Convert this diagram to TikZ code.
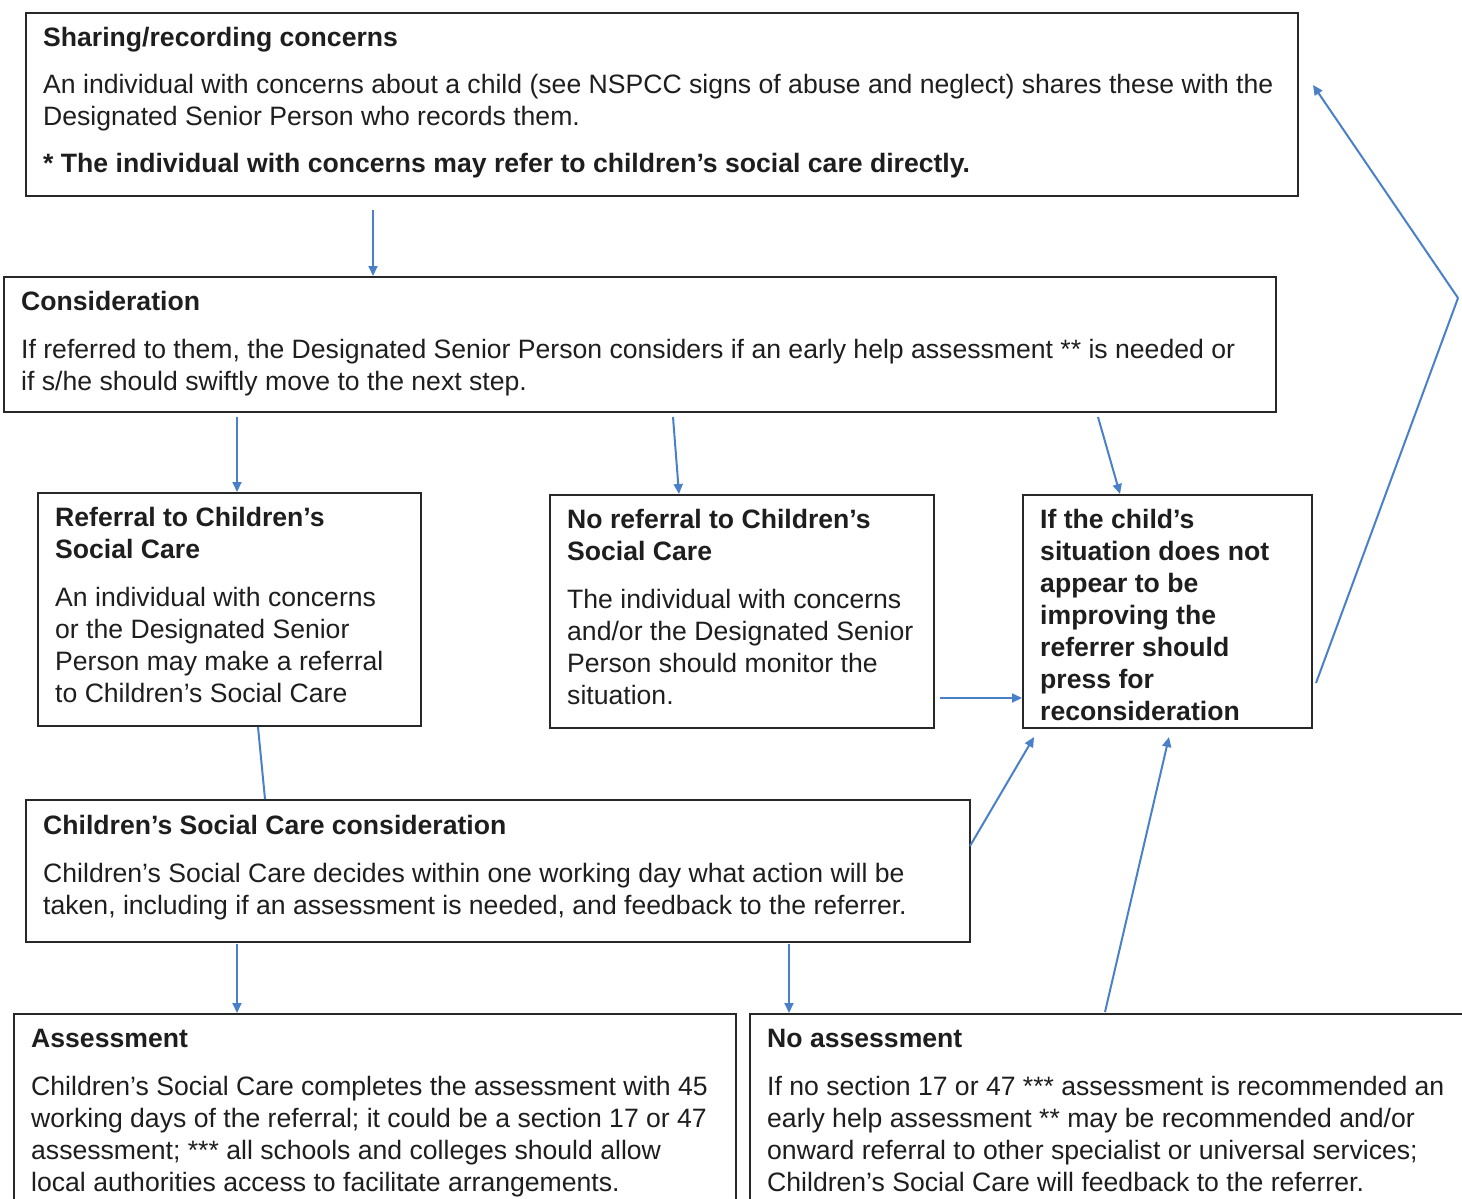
\documentclass[tikz,border=0pt]{standalone}
\usepackage{fontspec}
\setmainfont{Liberation Sans}
\usetikzlibrary{arrows.meta}
\definecolor{linkblue}{RGB}{74,128,200}
\definecolor{boxline}{RGB}{40,40,40}
\definecolor{txtcol}{RGB}{30,30,30}
\tikzset{
  box/.style={draw=boxline, line width=2pt, rectangle, inner sep=0pt, anchor=north west},
  txt/.style={anchor=base west, inner sep=0pt, text=txtcol},
  flow/.style={draw=linkblue, line width=2pt, -{Triangle[length=10pt,width=9pt]}},
  plain/.style={draw=linkblue, line width=2pt},
}
\newcommand{\blk}[1]{\parbox[t]{1400pt}{\fontsize{26.6}{32}\selectfont #1}}
\begin{document}
\begin{tikzpicture}[x=1pt,y=-1pt]
\useasboundingbox (0,0) rectangle (1462,1199);
\clip (0,0) rectangle (1462,1199);
% boxes
\node[box, minimum width=1272pt, minimum height=183pt] (share) at (25,12) {};
\node[box, minimum width=1272pt, minimum height=135pt] (consid) at (3,276) {};
\node[box, minimum width=383pt, minimum height=233pt] (refer) at (37,492) {};
\node[box, minimum width=384pt, minimum height=233pt] (noref) at (549,494) {};
\node[box, minimum width=289pt, minimum height=233pt] (press) at (1022,494) {};
\node[box, minimum width=944pt, minimum height=142pt] (csc) at (25,799) {};
\node[box, minimum width=722pt, minimum height=220pt] (assess) at (13,1013) {};
\node[box, minimum width=740pt, minimum height=220pt] (noassess) at (749,1013) {};
% texts
\node[txt] (tshare) at (43,47) {\blk{\textbf{Sharing/recording concerns}\\[15pt]
An individual with concerns about a child (see NSPCC signs of abuse and neglect) shares these with the\\
Designated Senior Person who records them.\\[15pt]
\textbf{* The individual with concerns may refer to children’s social care directly.}}};
\node[txt] (tconsid) at (21,310) {\blk{\textbf{Consideration}\\[16pt]
If referred to them, the Designated Senior Person considers if an early help assessment ** is needed or\\
if s/he should swiftly move to the next step.}};
\node[txt] (trefer) at (55,526) {\blk{\textbf{Referral to Children’s}\\
\textbf{Social Care}\\[16pt]
An individual with concerns\\
or the Designated Senior\\
Person may make a referral\\
to Children’s Social Care}};
\node[txt] (tnoref) at (567,528) {\blk{\textbf{No referral to Children’s}\\
\textbf{Social Care}\\[16pt]
The individual with concerns\\
and/or the Designated Senior\\
Person should monitor the\\
situation.}};
\node[txt] (tpress) at (1040,528) {\blk{\textbf{If the child’s}\\
\textbf{situation does not}\\
\textbf{appear to be}\\
\textbf{improving the}\\
\textbf{referrer should}\\
\textbf{press for}\\
\textbf{reconsideration}}};
\node[txt] (tcsc) at (43,834) {\blk{\textbf{Children’s Social Care consideration}\\[16pt]
Children’s Social Care decides within one working day what action will be\\
taken, including if an assessment is needed, and feedback to the referrer.}};
\node[txt] (tassess) at (31,1047) {\blk{\textbf{Assessment}\\[16pt]
Children’s Social Care completes the assessment with 45\\
working days of the referral; it could be a section 17 or 47\\
assessment; *** all schools and colleges should allow\\
local authorities access to facilitate arrangements.}};
\node[txt] (tnoassess) at (767,1047) {\blk{\textbf{No assessment}\\[16pt]
If no section 17 or 47 *** assessment is recommended an\\
early help assessment ** may be recommended and/or\\
onward referral to other specialist or universal services;\\
Children’s Social Care will feedback to the referrer.}};
% connector anchor points
\coordinate (s1) at (373,210);
\coordinate (e1) at (373,276);
\coordinate (s2) at (237,417);
\coordinate (e2) at (237,492);
\coordinate (s3) at (673,417);
\coordinate (e3) at (679,494);
\coordinate (s4) at (1098,417);
\coordinate (e4) at (1120,494);
\coordinate (s5) at (940,698);
\coordinate (e5) at (1022,698);
\coordinate (s6) at (258,727);
\coordinate (e6) at (265,799);
\coordinate (s7) at (970,846);
\coordinate (e7) at (1034,737);
\coordinate (s8) at (237,944);
\coordinate (e8) at (237,1013);
\coordinate (s9) at (789,944);
\coordinate (e9) at (789,1013);
\coordinate (s10) at (1105,1012);
\coordinate (e10) at (1169,737);
\coordinate (s11) at (1316,683);
\coordinate (m11) at (1458,298);
\coordinate (e11) at (1313,85);
% connectors
\draw[flow] (s1) -- (e1);
\draw[flow] (s2) -- (e2);
\draw[flow] (s3) -- (e3);
\draw[flow] (s4) -- (e4);
\draw[flow] (s5) -- (e5);
\draw[plain] (s6) -- (e6);
\draw[flow] (s7) -- (e7);
\draw[flow] (s8) -- (e8);
\draw[flow] (s9) -- (e9);
\draw[flow] (s10) -- (e10);
\draw[plain] (s11) -- (m11);
\draw[flow] (m11) -- (e11);
\end{tikzpicture}
\end{document}
